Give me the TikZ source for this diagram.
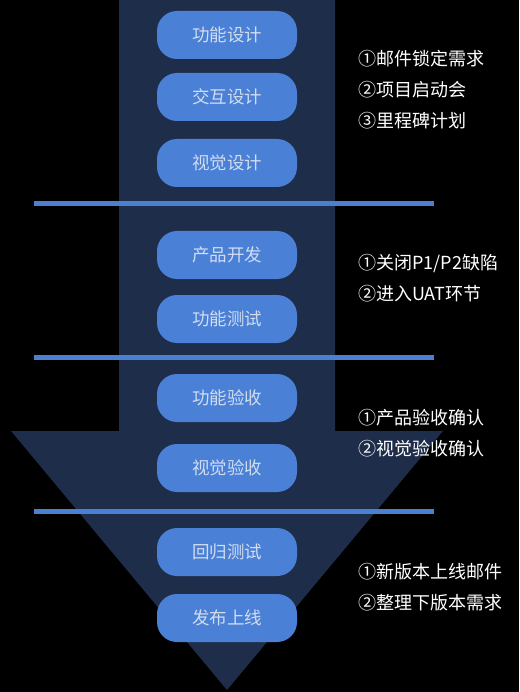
\documentclass[tikz,border=0pt]{standalone}
\usepackage{fontspec}
\setmainfont{Noto Sans CJK SC}
\definecolor{shaft}{HTML}{1E2D4A}
\definecolor{boxblue}{HTML}{4A80D6}
\definecolor{boxtext}{HTML}{D2DDF0}
\definecolor{sepblue}{HTML}{4A7FD2}
\begin{document}
\begin{tikzpicture}[x=1pt,y=-1pt,
  stage/.style={rounded corners=20pt, fill=boxblue, minimum width=140pt, minimum height=48pt, inner sep=0pt, text=boxtext, font=\fontsize{17.5}{17.5}\selectfont},
  note/.style={anchor=west, align=left, text=white, inner sep=0pt, font=\fontsize{18}{31}\selectfont},
  sepline/.style={draw=sepblue, line width=5pt}]
\fill[black] (0,0) rectangle (519,692);
\useasboundingbox (0,0) rectangle (519,692);
% arrow
\fill[shaft] (119,0) -- (335,0) -- (335,431) -- (443,431) -- (227,690) -- (11,431) -- (119,431) -- cycle;
% separators
\draw[sepline] (34,204) -- (434,204);
\draw[sepline] (34,357) -- (434,357);
\draw[sepline] (34,511) -- (434,511);
% stages
\node[stage] (s1) at (227,35) {功能设计};
\node[stage] (s2) at (227,97) {交互设计};
\node[stage] (s3) at (227,163) {视觉设计};
\node[stage] (s4) at (227,255) {产品开发};
\node[stage] (s5) at (227,319) {功能测试};
\node[stage] (s6) at (227,398) {功能验收};
\node[stage] (s7) at (227,468) {视觉验收};
\node[stage] (s8) at (227,552) {回归测试};
\node[stage] (s9) at (227,618) {发布上线};
% notes
\node[note] (n1) at (358,90) {①邮件锁定需求\\②项目启动会\\③里程碑计划};
\node[note] (n2) at (358,278.5) {①关闭P1/P2缺陷\\②进入UAT环节};
\node[note] (n3) at (358,433) {①产品验收确认\\②视觉验收确认};
\node[note] (n4) at (358,587.5) {①新版本上线邮件\\②整理下版本需求};
\end{tikzpicture}
\end{document}
